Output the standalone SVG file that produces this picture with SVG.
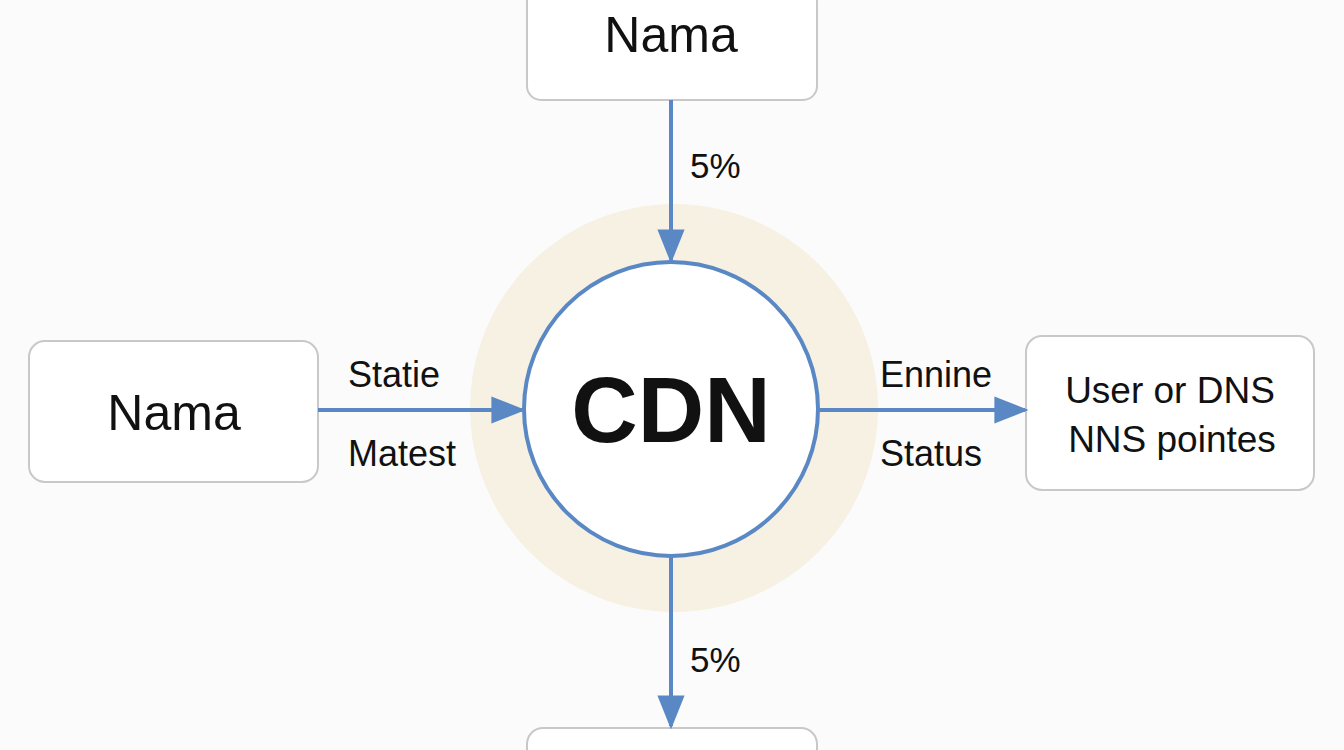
<svg xmlns="http://www.w3.org/2000/svg" width="1344" height="750" viewBox="0 0 1344 750">
<style>
.box{fill:#fff;stroke:#c8c8c8;stroke-width:2}
.t{font-family:"Liberation Sans",Arial,sans-serif;fill:#111}
.c{stroke:#5a88c4;stroke-width:4;fill:none}
</style>
<defs>
<marker id="m" viewBox="0 0 10 10" refX="9" refY="5" markerWidth="34" markerHeight="34" orient="auto" markerUnits="userSpaceOnUse"><path d="M0,1L10,5L0,9z" fill="#5a88c4"/></marker></defs>
<rect width="1344" height="750" fill="#fbfbfb"/>
<circle cx="674" cy="408" r="204" fill="#f6f1e3"/>
<g id="top"><rect class="box" x="527" y="-12" width="290" height="112" rx="14"/><text class="t" x="671" y="52" font-size="50" text-anchor="middle">Nama</text></g>
<g id="left"><rect class="box" x="29" y="341" width="289" height="141" rx="16"/><text class="t" x="174" y="430" font-size="50" text-anchor="middle">Nama</text></g>
<g id="right"><rect class="box" x="1026" y="336" width="288" height="154" rx="16"/><text class="t" x="1170" y="403" font-size="37" text-anchor="middle">User or DNS</text><text class="t" x="1172" y="452" font-size="37" text-anchor="middle">NNS pointes</text></g>
<g id="bottom"><rect class="box" x="527" y="728" width="290" height="60" rx="16"/></g>
<g id="cdn"><circle cx="671" cy="409" r="147" fill="#fff" stroke="#5a88c4" stroke-width="4"/><text class="t" x="671" y="442" font-size="92" font-weight="bold" text-anchor="middle">CDN</text></g>
<g id="connectors">
<line class="c" x1="671" y1="100" x2="671" y2="260" marker-end="url(#m)"/>
<line class="c" x1="318" y1="410" x2="522" y2="410" marker-end="url(#m)"/>
<line class="c" x1="818" y1="410" x2="1025" y2="410" marker-end="url(#m)"/>
<line class="c" x1="671" y1="557" x2="671" y2="726" marker-end="url(#m)"/>
<text class="t" x="690" y="178" font-size="35">5%</text>
<text class="t" x="690" y="672" font-size="35">5%</text>
<text class="t" x="348" y="387" font-size="36">Statie</text>
<text class="t" x="348" y="466" font-size="36">Matest</text>
<text class="t" x="880" y="387" font-size="36">Ennine</text>
<text class="t" x="880" y="466" font-size="36">Status</text>
</g>
</svg>
